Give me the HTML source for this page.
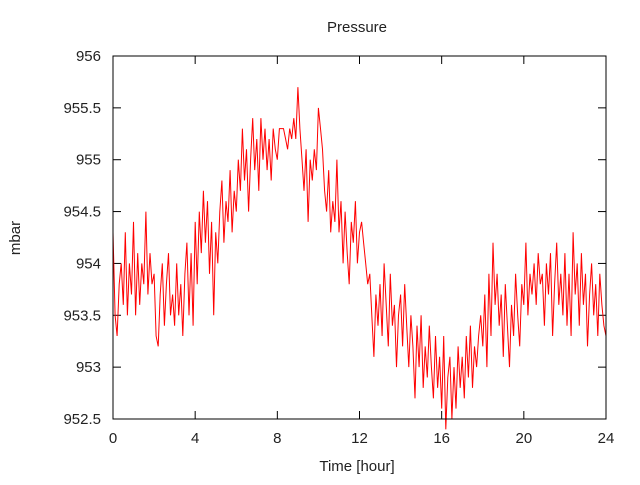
<!DOCTYPE html>
<html><head><meta charset="utf-8"><style>
body{margin:0;background:#fff;}
svg text{font-family:"Liberation Sans",sans-serif;font-size:15px;fill:#222;}
</style></head><body>
<svg id="chart" width="640" height="480">
<text x="357" y="32" text-anchor="middle">Pressure</text>
<text x="357" y="471" text-anchor="middle">Time [hour]</text>
<text x="20" y="238" text-anchor="middle" transform="rotate(-90 20 238)">mbar</text>
<g id="axes"></g>
<polyline id="series" fill="none" stroke="#ff0000" stroke-width="1"/>
<rect x="113" y="56" width="493" height="363" fill="none" stroke="#000" stroke-width="1"/>
</svg>
<script>
const xTicks=[0,4,8,12,16,20,24];
const yTicks=[952.5,953,953.5,954,954.5,955,955.5,956];
const yTickLabels=["952.5","953","953.5","954","954.5","955","955.5","956"];
const pressure=[
954.3,953.5,953.3,953.8,954.0,953.6,954.3,953.5,954.0,953.7,
954.4,953.5,954.1,953.6,954.0,953.8,954.5,953.7,954.1,953.8,
953.9,953.3,953.2,953.7,954.0,953.4,953.8,954.1,953.5,953.7,
953.4,954.0,953.5,953.8,953.3,953.9,954.2,953.5,954.1,953.4,
954.4,953.8,954.5,954.1,954.7,954.2,954.6,953.9,954.4,953.5,
954.3,954.0,954.5,954.8,954.2,954.6,954.4,954.9,954.3,954.7,
954.5,955.0,954.7,955.3,954.8,955.1,954.5,955.0,955.4,954.9,
955.2,954.7,955.4,955.0,955.3,954.9,955.2,954.8,955.3,955.1,
955.0,955.3,955.3,955.3,955.2,955.1,955.3,955.2,955.4,955.2,
955.7,955.3,955.0,954.7,955.1,954.4,955.0,954.8,955.1,954.9,
955.5,955.3,955.1,954.7,954.5,954.9,954.3,954.6,954.4,955.0,
954.3,954.6,954.0,954.5,954.1,953.8,954.4,954.2,954.6,954.0,
954.3,954.4,954.2,954.0,953.8,953.9,953.5,953.1,953.7,953.4,
953.8,953.3,954.0,953.6,953.2,953.9,953.4,953.6,953.0,953.5,
953.7,953.2,953.8,953.4,953.0,953.5,953.2,952.7,953.4,953.0,
953.5,952.8,953.2,952.9,953.4,953.0,952.7,953.3,952.8,953.1,
952.6,953.3,952.4,952.9,953.1,952.5,953.0,952.6,953.2,952.8,
953.1,952.7,953.3,952.9,953.4,952.8,953.2,953.0,953.3,953.5,
953.2,953.7,953.0,953.9,953.3,954.2,953.6,953.9,953.4,953.7,
953.1,953.8,953.4,953.0,953.6,953.3,953.9,953.5,953.2,953.8,
953.6,954.2,953.5,953.9,953.7,954.0,953.6,954.1,953.8,953.9,
953.4,954.0,953.7,954.1,953.3,953.8,954.2,953.6,953.9,953.5,
954.1,953.4,953.9,953.3,954.3,953.7,954.0,953.4,954.1,953.6,
953.9,953.2,953.7,954.0,953.5,953.8,953.3,953.9,953.6,953.4,
953.3];
const L=113,R=606,T=56,B=419;
const xS=h=>L+(h/24)*(R-L);
const yS=v=>B-(v-952.5)/3.5*(B-T);
const NS="http://www.w3.org/2000/svg";
const axes=document.getElementById('axes');
function mk(tag,attrs){const e=document.createElementNS(NS,tag);for(const k in attrs)e.setAttribute(k,attrs[k]);return e;}
xTicks.forEach(t=>{
  const x=xS(t);
  const a=mk('line',{x1:x,x2:x,y1:B,y2:B-8,stroke:'#000'});
  
  
  axes.appendChild(a);
  const b=mk('line',{x1:x,x2:x,y1:T,y2:T+8,stroke:'#000'});
  
  
  axes.appendChild(b);
  const tx=mk('text',{x:x,y:443,'text-anchor':'middle'});
  tx.textContent=String(t);
  
  
  axes.appendChild(tx);
});
yTicks.forEach((v,i)=>{
  const y=yS(v);
  const a=mk('line',{x1:L,x2:L+8,y1:y,y2:y,stroke:'#000'});
  
  
  axes.appendChild(a);
  const b=mk('line',{x1:R,x2:R-8,y1:y,y2:y,stroke:'#000'});
  
  
  axes.appendChild(b);
  const tx=mk('text',{x:101,y:y+5,'text-anchor':'end'});
  tx.textContent=yTickLabels[i];
  
  
  axes.appendChild(tx);
});
const n=pressure.length;
document.getElementById('series').setAttribute('points',
  pressure.map((v,i)=>xS(i*24/(n-1)).toFixed(1)+','+yS(v).toFixed(1)).join(' '));
</script>
</body></html>
